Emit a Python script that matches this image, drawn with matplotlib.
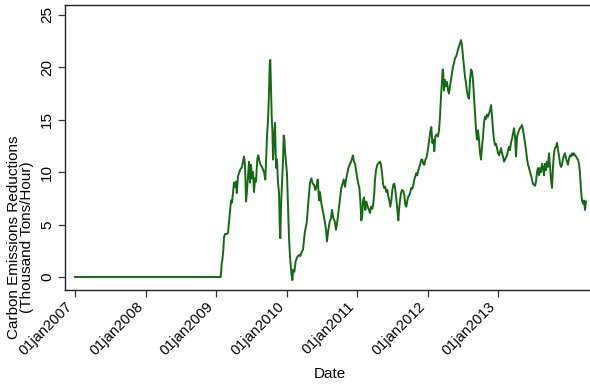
import matplotlib
matplotlib.use("Agg")
import matplotlib.pyplot as plt

plt.rcParams['font.family'] = ['Liberation Sans', 'DejaVu Sans']

# Series: decimal year and emissions reductions (thousand tons/hour)
years = [
    2007.000, 2009.067, 2009.081, 2009.089, 2009.104, 2009.113, 2009.128, 2009.152,
    2009.170, 2009.184, 2009.213, 2009.227, 2009.255, 2009.270, 2009.284, 2009.294,
    2009.312, 2009.340, 2009.369, 2009.397, 2009.411, 2009.426, 2009.440, 2009.468,
    2009.482, 2009.496, 2009.511, 2009.525, 2009.539, 2009.553, 2009.567, 2009.586,
    2009.600, 2009.624, 2009.652, 2009.681, 2009.699, 2009.709, 2009.723, 2009.738,
    2009.752, 2009.762, 2009.770, 2009.780, 2009.790, 2009.799, 2009.809, 2009.823,
    2009.837, 2009.847, 2009.855, 2009.865, 2009.879, 2009.894, 2009.904, 2009.912,
    2009.922, 2009.936, 2009.950, 2009.960, 2009.969, 2009.979, 2009.993, 2010.007,
    2010.021, 2010.035, 2010.050, 2010.068, 2010.082, 2010.096, 2010.111, 2010.130,
    2010.153, 2010.177, 2010.196, 2010.216, 2010.234, 2010.258, 2010.287, 2010.309,
    2010.333, 2010.352, 2010.372, 2010.390, 2010.409, 2010.423, 2010.443, 2010.461,
    2010.475, 2010.494, 2010.518, 2010.542, 2010.560, 2010.574, 2010.593, 2010.613,
    2010.631, 2010.645, 2010.664, 2010.684, 2010.702, 2010.721, 2010.740, 2010.763,
    2010.777, 2010.791, 2010.811, 2010.830, 2010.844, 2010.862, 2010.882, 2010.901,
    2010.915, 2010.929, 2010.943, 2010.957, 2010.972, 2010.986, 2011.004, 2011.018,
    2011.033, 2011.047, 2011.061, 2011.075, 2011.085, 2011.099, 2011.118, 2011.132,
    2011.152, 2011.170, 2011.184, 2011.199, 2011.217, 2011.231, 2011.245, 2011.255,
    2011.270, 2011.288, 2011.308, 2011.326, 2011.340, 2011.355, 2011.369, 2011.383,
    2011.401, 2011.416, 2011.430, 2011.444, 2011.458, 2011.472, 2011.486, 2011.501,
    2011.515, 2011.529, 2011.543, 2011.557, 2011.572, 2011.586, 2011.596, 2011.610,
    2011.624, 2011.638, 2011.657, 2011.671, 2011.685, 2011.699, 2011.714, 2011.728,
    2011.742, 2011.756, 2011.770, 2011.784, 2011.799, 2011.813, 2011.827, 2011.841,
    2011.855, 2011.870, 2011.884, 2011.898, 2011.912, 2011.926, 2011.940, 2011.955,
    2011.969, 2011.983, 2011.997, 2012.011, 2012.026, 2012.040, 2012.054, 2012.068,
    2012.082, 2012.096, 2012.111, 2012.130, 2012.149, 2012.163, 2012.177, 2012.191,
    2012.206, 2012.216, 2012.224, 2012.234, 2012.248, 2012.262, 2012.277, 2012.291,
    2012.305, 2012.319, 2012.333, 2012.348, 2012.362, 2012.376, 2012.390, 2012.404,
    2012.418, 2012.433, 2012.447, 2012.461, 2012.475, 2012.489, 2012.504, 2012.518,
    2012.532, 2012.546, 2012.560, 2012.574, 2012.589, 2012.603, 2012.617, 2012.631,
    2012.645, 2012.660, 2012.674, 2012.688, 2012.702, 2012.716, 2012.730, 2012.745,
    2012.759, 2012.773, 2012.787, 2012.801, 2012.816, 2012.830, 2012.844, 2012.858,
    2012.872, 2012.887, 2012.901, 2012.915, 2012.929, 2012.943, 2012.957, 2012.972,
    2012.986, 2013.000, 2013.014, 2013.028, 2013.043, 2013.057, 2013.071, 2013.085,
    2013.099, 2013.113, 2013.128, 2013.142, 2013.156, 2013.170, 2013.184, 2013.199,
    2013.213, 2013.227, 2013.241, 2013.255, 2013.270, 2013.284, 2013.298, 2013.312,
    2013.326, 2013.340, 2013.355, 2013.369, 2013.383, 2013.397, 2013.411, 2013.426,
    2013.440, 2013.454, 2013.468, 2013.482, 2013.496, 2013.511, 2013.525, 2013.539,
    2013.553, 2013.567, 2013.582, 2013.596, 2013.610, 2013.624, 2013.638, 2013.652,
    2013.667, 2013.681, 2013.695, 2013.709, 2013.723, 2013.738, 2013.752, 2013.766,
    2013.780, 2013.794, 2013.809, 2013.823, 2013.837, 2013.851, 2013.865, 2013.879,
    2013.894, 2013.908, 2013.922, 2013.936, 2013.950, 2013.965, 2013.979, 2013.993,
    2014.007, 2014.021, 2014.035, 2014.050, 2014.064, 2014.078, 2014.092, 2014.106,
    2014.121, 2014.135, 2014.149, 2014.163, 2014.177, 2014.191, 2014.206, 2014.220,
    2014.234, 2014.248,
]

reductions = [
    0.0, 0.0, 1.3, 1.6, 2.6, 3.8, 4.1, 4.1,
    4.2, 5.2, 7.3, 7.1, 9.0, 8.6, 9.1, 8.0,
    9.6, 10.2, 10.5, 11.5, 10.7, 7.2, 8.3, 11.0,
    9.0, 10.7, 9.4, 10.0, 8.1, 9.4, 9.1, 11.3,
    11.6, 10.8, 10.5, 10.0, 9.3, 10.9, 13.4, 15.0,
    17.7, 20.4, 20.7, 17.8, 15.3, 14.0, 11.2, 13.4,
    14.7, 11.5, 10.4, 11.2, 9.0, 8.0, 4.8, 3.7,
    6.7, 9.0, 11.0, 13.5, 13.2, 12.0, 10.9, 9.8,
    6.8, 3.8, 1.9, 0.4, -0.3, 0.7, 0.5, 1.5,
    1.9, 2.1, 2.0, 2.4, 2.6, 4.2, 5.2, 7.1,
    9.0, 9.4, 8.9, 8.8, 8.3, 8.6, 9.3, 7.3,
    8.1, 7.0, 6.2, 5.3, 4.5, 3.4, 4.5, 5.3,
    5.6, 6.4, 5.6, 5.3, 4.5, 5.3, 6.4, 7.8,
    8.5, 8.8, 9.3, 8.6, 9.3, 9.9, 10.5, 10.8,
    11.0, 11.3, 11.6, 11.0, 10.8, 10.2, 9.4, 8.9,
    8.5, 7.3, 5.4, 5.9, 7.3, 7.6, 6.4, 7.2,
    6.7, 6.4, 6.1, 6.7, 6.5, 7.0, 8.0, 9.3,
    10.2, 10.7, 10.9, 11.0, 10.7, 9.9, 8.9, 8.5,
    8.6, 8.1, 8.3, 7.7, 7.3, 6.7, 7.3, 8.3,
    8.8, 8.9, 8.3, 7.5, 6.4, 5.4, 6.4, 7.3,
    8.0, 8.3, 8.2, 7.8, 6.9, 6.7, 7.3, 7.7,
    7.8, 8.1, 8.5, 8.4, 8.8, 9.3, 9.6, 9.9,
    9.7, 10.2, 10.5, 10.8, 11.2, 11.2, 10.8, 10.7,
    11.2, 11.3, 11.8, 12.4, 13.2, 13.9, 14.3, 12.8,
    13.1, 12.0, 13.4, 13.6, 13.4, 14.0, 15.3, 17.2,
    18.8, 19.8, 19.4, 17.8, 18.8, 18.2, 18.6, 17.8,
    17.5, 18.2, 18.8, 19.4, 20.1, 20.4, 20.9, 21.0,
    21.3, 21.7, 22.0, 22.3, 22.6, 22.1, 21.0, 20.1,
    19.1, 18.5, 17.7, 17.2, 17.0, 18.8, 19.8, 19.6,
    18.8, 17.2, 15.6, 14.0, 13.1, 14.0, 13.1, 11.8,
    11.2, 12.4, 13.4, 14.7, 15.3, 15.1, 15.5, 15.3,
    15.6, 15.9, 16.4, 15.3, 14.0, 13.1, 12.6, 12.7,
    12.3, 11.8, 11.6, 11.9, 12.3, 11.8, 11.5, 11.0,
    11.2, 11.4, 11.6, 12.1, 12.4, 12.1, 12.8, 13.2,
    13.7, 14.2, 13.4, 11.5, 13.4, 13.7, 14.0, 14.2,
    14.3, 14.5, 14.0, 13.4, 12.8, 12.1, 11.3, 10.7,
    10.4, 10.0, 9.7, 9.3, 8.9, 8.8, 8.7, 9.1,
    10.0, 10.4, 9.7, 10.4, 10.0, 10.8, 10.5, 9.7,
    10.8, 10.2, 11.0, 10.5, 11.8, 10.5, 9.3, 8.5,
    10.5, 11.8, 12.3, 12.4, 12.8, 12.1, 11.6, 10.8,
    10.5, 10.7, 11.3, 11.6, 11.8, 11.3, 11.0, 10.7,
    11.3, 11.6, 11.5, 11.8, 11.6, 11.8, 11.6, 11.5,
    11.3, 11.2, 10.8, 9.9, 8.3, 7.3, 7.0, 7.3,
    6.4, 7.2,
]

tick_years = [2007, 2008, 2009, 2010, 2011, 2012, 2013]
tick_labels = ["01jan2007", "01jan2008", "01jan2009", "01jan2010",
               "01jan2011", "01jan2012", "01jan2013"]
y_ticks = [0, 5, 10, 15, 20, 25]

fig = plt.figure(figsize=(5.90, 3.85), dpi=100)
ax = fig.add_axes([0.1102, 0.2468, 0.8983, 0.7403])

ax.plot(years, reductions, color="#136a13", linewidth=1.4, solid_joinstyle="round")

ax.set_xlim(2006.858, 2014.376)
ax.set_ylim(-1.24, 25.95)

ax.set_xticks(tick_years)
ax.set_xticklabels(tick_labels, rotation=45, ha="right", va="top", fontsize=10.5)
ax.set_yticks(y_ticks)
ax.set_yticklabels([str(v) for v in y_ticks], rotation=90, va="center", fontsize=11)
ax.tick_params(axis="both", direction="out", length=5, width=0.9, color="#333333")
ax.tick_params(axis="x", pad=2)
ax.tick_params(axis="y", pad=3)

for side in ("left", "bottom", "top"):
    ax.spines[side].set_linewidth(1.0)
    ax.spines[side].set_color("#222222")
ax.spines["right"].set_visible(False)

ax.set_xlabel("Date", fontsize=11, labelpad=6)
fig.text(0.034, 0.383, "Carbon Emissions Reductions\n(Thousand Tons/Hour)",
         rotation=90, ha="center", va="center", fontsize=11, linespacing=0.9,
         multialignment="center")

fig.savefig("out.png", dpi=100)
